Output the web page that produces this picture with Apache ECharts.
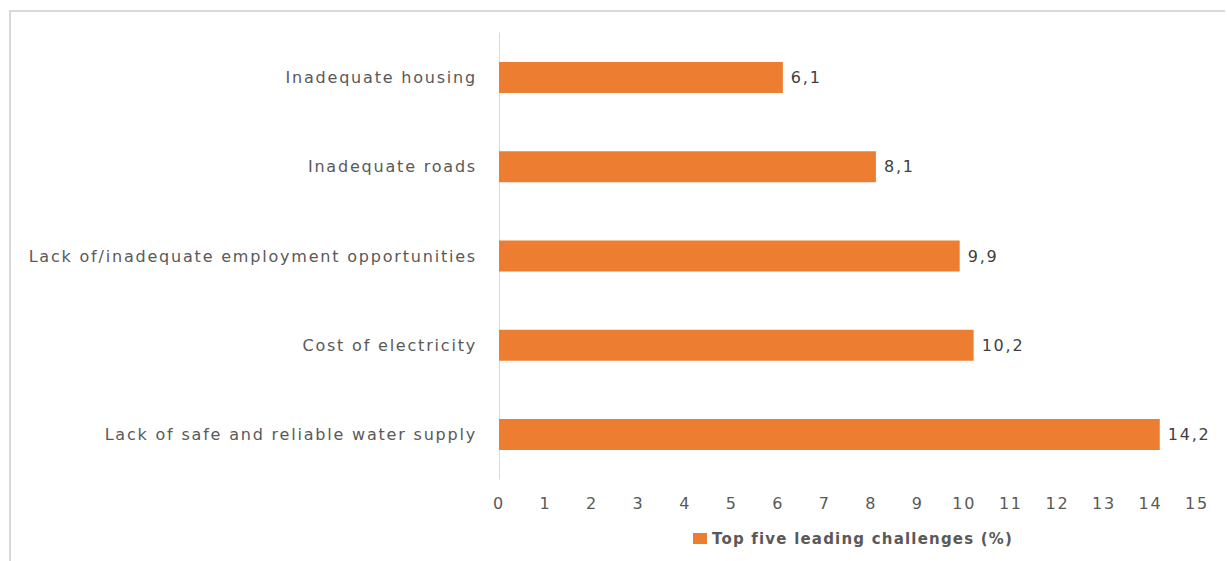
<!DOCTYPE html>
<html>
<head>
<meta charset="utf-8">
<script src="https://cdn.jsdelivr.net/npm/echarts@6/dist/echarts.min.js"></script>
<style>
  html, body { margin: 0; padding: 0; background: #fff; overflow: hidden; width: 1227px; height: 561px; }
  #frame { position: absolute; left: 9px; top: 10px; width: 1214px; height: 549px;
           border-left: 2px solid #d9d9d9; border-top: 2px solid #d9d9d9; }
  #chart { position: absolute; left: 0; top: 0; width: 1227px; height: 561px; }
</style>
</head>
<body>
<div id="frame"></div>
<div id="chart"></div>
<script>
// Categories listed bottom to top on the vertical axis
const categories = [
  'Lack of safe and reliable water supply',
  'Cost of electricity',
  'Lack of/inadequate employment opportunities',
  'Inadequate roads',
  'Inadequate housing'
];
const values = [14.2, 10.2, 9.9, 8.1, 6.1];
const seriesName = 'Top five leading challenges (%)';
const xTicks = { min: 0, max: 15, interval: 1 };

const FONT = 'DejaVu Sans';
const chart = echarts.init(document.getElementById('chart'), null, { renderer: 'svg' });
chart.setOption({
  animation: false,
  backgroundColor: 'transparent',
  grid: { left: 499, right: 30, top: 33, bottom: 82, containLabel: false },
  legend: {
    left: 688, top: 526,
    itemWidth: 14, itemHeight: 11, itemGap: 10,
    icon: 'rect',
    textStyle: { fontFamily: FONT, fontSize: 15, fontWeight: 'bold', color: '#595959' },
    data: [seriesName]
  },
  xAxis: {
    type: 'value',
    min: xTicks.min, max: xTicks.max, interval: xTicks.interval,
    axisLine: { show: false },
    axisTick: { show: false },
    splitLine: { show: false },
    axisLabel: { color: '#595959', fontFamily: FONT, fontSize: 16, margin: 16 }
  },
  yAxis: {
    type: 'category',
    data: categories,
    axisLine: { show: true, lineStyle: { color: '#d9d9d9', width: 1 } },
    axisTick: { show: false },
    axisLabel: { color: '#595959', fontFamily: FONT, fontSize: 16, margin: 22 }
  },
  series: [{
    name: seriesName,
    type: 'bar',
    data: values,
    barWidth: 31,
    itemStyle: { color: '#ed7d31' },
    label: {
      show: true, position: 'right', distance: 8,
      color: '#404040', fontFamily: FONT, fontSize: 16,
      formatter: p => String(p.value).replace('.', ',')
    }
  }]
});

// Wider tracking on all text; the bold legend text gets a lighter touch
document.querySelectorAll('#chart text').forEach(t => {
  const w = getComputedStyle(t).fontWeight;
  const bold = w === 'bold' || parseInt(w, 10) >= 600;
  t.style.letterSpacing = bold ? '1.2px' : '1.8px';
});
</script>
</body>
</html>
